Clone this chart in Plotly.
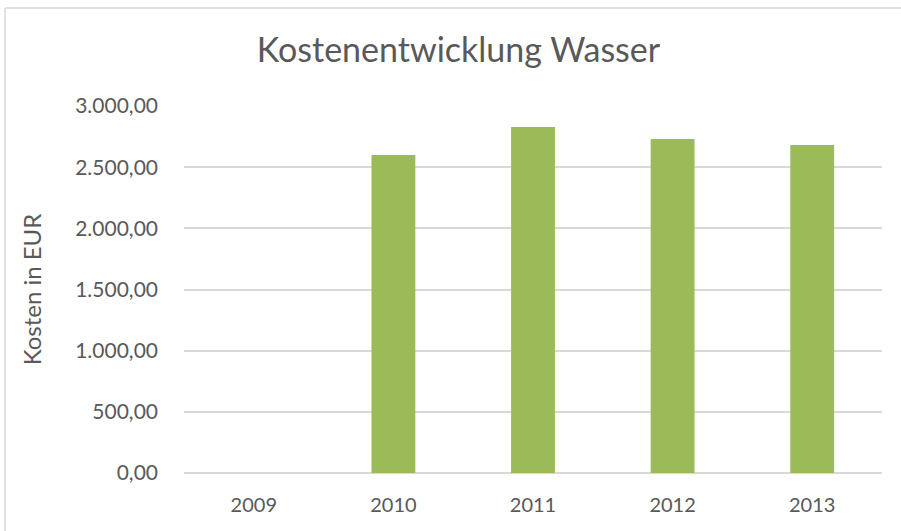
import plotly.graph_objects as go

years = ["2009", "2010", "2011", "2012", "2013"]
costs = [None, 2599, 2828, 2730, 2681]
y_ticks = [0, 500, 1000, 1500, 2000, 2500, 3000]

W, H = 901, 531
L, R, T, B = 184, 19, 106, 58
pw = W - L - R
ph = H - T - B

def px_x(v):
    return (v - L) / pw

def px_y(v):
    return (H - B - v) / ph

text_color = "#595959"
font_family = "Lato, 'Open Sans', sans-serif"
border = dict(color="#D9D9D9", width=1.5)

fig = go.Figure(go.Bar(x=years, y=costs, marker=dict(color="#9BBB59", line=dict(width=0))))

fig.update_layout(
    width=W, height=H,
    margin=dict(l=L, r=R, t=T, b=B),
    paper_bgcolor="white", plot_bgcolor="white",
    separators=",.",
    bargap=0.686,
    showlegend=False,
    font=dict(family=font_family, color=text_color),
    title=dict(text="Kostenentwicklung Wasser", x=458.5 / W, xanchor="center",
               y=1 - 50 / H, yanchor="middle", yref="container",
               font=dict(size=34, color=text_color, family=font_family)),
    xaxis=dict(type="category", showgrid=False, showline=False, zeroline=False,
               tickfont=dict(size=20, color=text_color), ticks="", ticklabelstandoff=18),
    yaxis=dict(range=[0, 3000], tickvals=y_ticks, tickformat=",.2f",
               showgrid=True, gridcolor="#D9D9D9", gridwidth=1.5,
               zeroline=True, zerolinecolor="#D9D9D9", zerolinewidth=1.5,
               showline=False, ticks="", ticklabelstandoff=25,
               tickfont=dict(size=21, color=text_color),
               title=dict(text="Kosten in EUR", font=dict(size=24, color=text_color), standoff=26)),
    shapes=[
        dict(type="line", xref="paper", yref="paper",
             x0=px_x(5), x1=px_x(W + 20), y0=px_y(8), y1=px_y(8), line=border, layer="below"),
        dict(type="line", xref="paper", yref="paper",
             x0=px_x(5), x1=px_x(5), y0=px_y(8), y1=px_y(H + 20), line=border, layer="below"),
    ],
)

fig.write_html("out.html", config={"displayModeBar": False},
               post_script="document.body.style.margin='0';document.body.style.overflow='hidden';")
